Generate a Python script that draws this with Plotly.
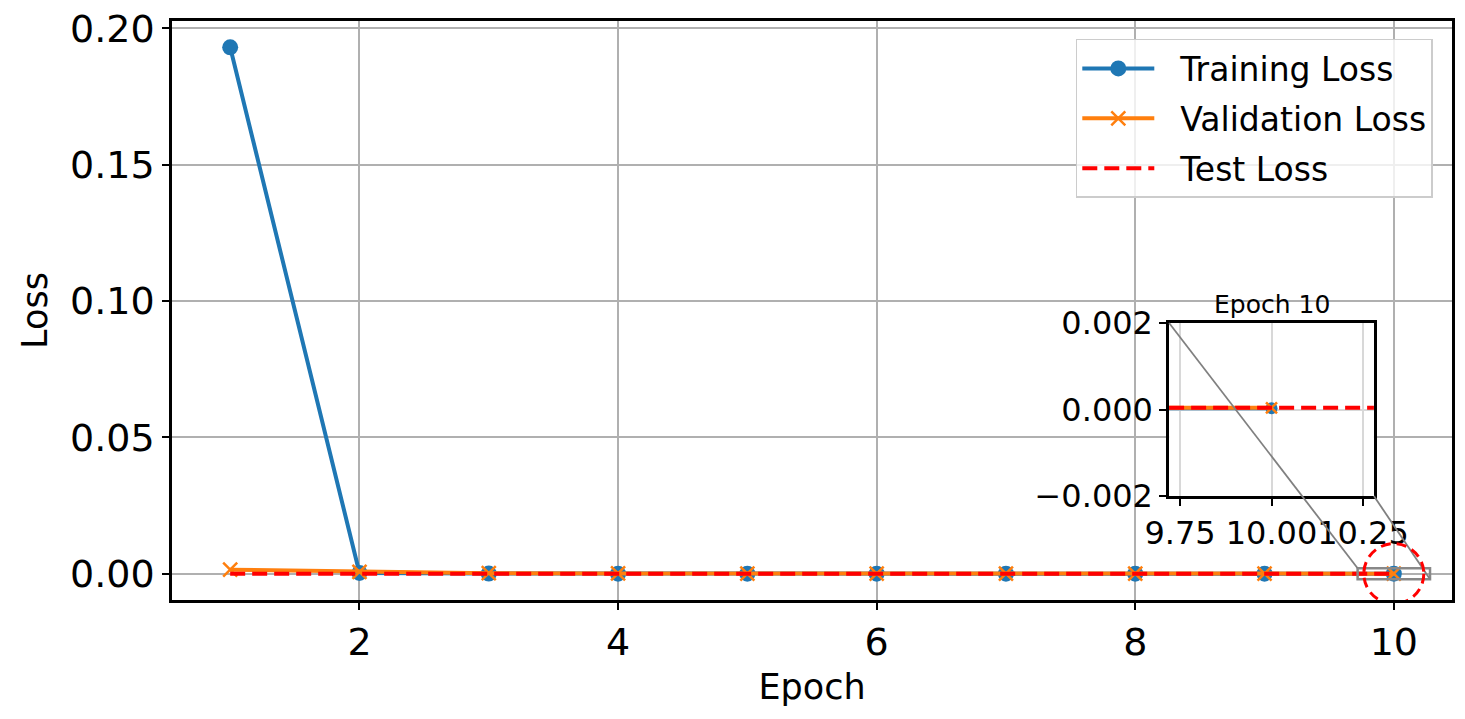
import plotly.graph_objects as go

# loss values
epochs = [1, 2, 3, 4, 5, 6, 7, 8, 9, 10]
train_loss = [0.1930, 0.0003, 0.00008, 0.00005, 0.00004, 0.00003, 0.00003, 0.00003, 0.00003, 0.00003]
val_loss = [0.0015, 0.0007, 0.0002, 0.0001, 0.00008, 0.00006, 0.00005, 0.00005, 0.00004, 0.00004]
test_loss = [0.00004, 0.00004, 0.00004, 0.00004, 0.00004, 0.00004, 0.00004, 0.00004, 0.00004, 0.00004]

main_xticks = [2, 4, 6, 8, 10]
main_yticks = [0.0, 0.05, 0.10, 0.15, 0.20]
inset_xticks = [9.75, 10.0, 10.25]
inset_yticks = [-0.002, 0.0, 0.002]
zoom_epoch = 10
inset_xlim = [9.72, 10.28]
inset_ylim = [-0.002, 0.002]

BLUE = "#1f77b4"
ORANGE = "#ff7f0e"
RED = "#ff0000"
FONT = "DejaVu Sans"

# the html page body has an 8px margin, so the figure is a bit smaller
W, H = 1457, 711
L, R, T, B = 164, 13, 13, 119
plot_w = W - L - R
plot_h = H - T - B

# matplotlib style autoscale (5% margins)
x_lo, x_hi = min(epochs), max(epochs)
x_pad = 0.05 * (x_hi - x_lo)
x_range = [x_lo - x_pad, x_hi + x_pad]
all_y = train_loss + val_loss + test_loss
y_lo, y_hi = min(all_y), max(all_y)
y_pad = 0.05 * (y_hi - y_lo)
y_range = [y_lo - y_pad, y_hi + y_pad]

# inset position in paper coords
inset_dom_x = [0.779, 0.939]
inset_dom_y = [0.1796, 0.4784]


def to_paper(x, y):
    px = (x - x_range[0]) / (x_range[1] - x_range[0])
    py = (y - y_range[0]) / (y_range[1] - y_range[0])
    return px, py


fig = go.Figure()

pad = "\u00a0\u00a0"
fig.add_trace(go.Scatter(x=epochs, y=train_loss, name=pad + "Training Loss", mode="lines+markers",
                         legendgroup="a",
                         line=dict(color=BLUE, width=4), marker=dict(symbol="circle", size=16, color=BLUE)))
fig.add_trace(go.Scatter(x=epochs, y=val_loss, name=pad + "Validation Loss", mode="lines+markers",
                         legendgroup="b",
                         line=dict(color=ORANGE, width=4),
                         marker=dict(symbol="x-thin", size=14, line=dict(color=ORANGE, width=2.5))))
fig.add_trace(go.Scatter(x=epochs, y=test_loss, name=pad + "Test Loss", mode="lines",
                         legendgroup="c",
                         line=dict(color=RED, width=4, dash="15px,7px")))

# inset copies
fig.add_trace(go.Scatter(x=epochs, y=train_loss, mode="lines+markers", showlegend=False,
                         xaxis="x2", yaxis="y2",
                         line=dict(color=BLUE, width=4), marker=dict(symbol="circle", size=12, color=BLUE)))
fig.add_trace(go.Scatter(x=epochs, y=val_loss, mode="lines+markers", showlegend=False,
                         xaxis="x2", yaxis="y2",
                         line=dict(color=ORANGE, width=4),
                         marker=dict(symbol="x-thin", size=11, line=dict(color=ORANGE, width=2.5))))

axis_common = dict(showline=True, mirror=True, linecolor="black", linewidth=2.5,
                   ticks="outside", ticklen=7, tickwidth=2, tickcolor="black",
                   zeroline=False, showgrid=True, automargin=False,
                   ticklabeloverflow="allow")

fig.update_layout(
    width=W, height=H,
    margin=dict(l=L, r=R, t=T, b=B, autoexpand=False),
    paper_bgcolor="white", plot_bgcolor="white",
    font=dict(family=FONT, color="black"),
    xaxis=dict(range=x_range, tickvals=main_xticks, tickfont=dict(size=38),
               gridcolor="#b0b0b0", gridwidth=2,
               title=dict(text="Epoch", font=dict(size=35), standoff=12), **axis_common),
    yaxis=dict(range=y_range, tickvals=main_yticks, tickformat=".2f", tickfont=dict(size=38),
               gridcolor="#b0b0b0", gridwidth=2,
               title=dict(text="Loss", font=dict(size=35), standoff=12), **axis_common),
    xaxis2=dict(domain=inset_dom_x, anchor="y2", range=inset_xlim, tickvals=inset_xticks,
                tickformat=".2f", tickangle=0, tickfont=dict(size=32),
                gridcolor="#d8d8d8", gridwidth=2, **axis_common),
    yaxis2=dict(domain=inset_dom_y, anchor="x2", range=inset_ylim, tickvals=inset_yticks,
                tickformat=".3f", tickfont=dict(size=32),
                gridcolor="#d8d8d8", gridwidth=2, **axis_common),
    legend=dict(x=0.985, y=0.969, xanchor="right", yanchor="top",
                font=dict(size=33), bgcolor="rgba(255,255,255,0.8)",
                bordercolor="#cccccc", borderwidth=1.5, itemwidth=72,
                tracegroupgap=4),
    showlegend=True,
)

# white face for the inset, covering the main grid
fig.add_shape(type="rect", xref="x2 domain", yref="y2 domain", x0=0, x1=1, y0=0, y1=1,
              fillcolor="white", line=dict(width=0), layer="below")

# test loss across the inset (axhline)
fig.add_shape(type="line", xref="x2 domain", yref="y2", x0=0, x1=1,
              y0=test_loss[-1], y1=test_loss[-1],
              line=dict(color=RED, width=4, dash="15px,7px"), layer="above")

fig.add_annotation(text="Epoch 10", xref="x2 domain", yref="y2 domain", x=0.5, y=1,
                   xanchor="center", yanchor="bottom", yshift=2, showarrow=False,
                   font=dict(size=25, color="black"))

# zoom rectangle on the main axes
fig.add_shape(type="rect", xref="x", yref="y", x0=inset_xlim[0], x1=inset_xlim[1],
              y0=inset_ylim[0], y1=inset_ylim[1], line=dict(color="#888888", width=2.5),
              fillcolor="rgba(0,0,0,0)", layer="above")

# connector lines
p_tl = to_paper(inset_xlim[0], inset_ylim[1])
p_br = to_paper(inset_xlim[1], inset_ylim[0])
fig.add_shape(type="line", xref="paper", yref="paper", x0=inset_dom_x[0], y0=inset_dom_y[1],
              x1=p_tl[0], y1=p_tl[1], line=dict(color="#808080", width=1.8), layer="above")
fig.add_shape(type="line", xref="paper", yref="paper", x0=inset_dom_x[1], y0=inset_dom_y[0],
              x1=p_br[0], y1=p_br[1], line=dict(color="#808080", width=1.8), layer="above")

# red dashed circle around the last epoch
r_px = 30
rx = r_px * (x_range[1] - x_range[0]) / plot_w
ry = r_px * (y_range[1] - y_range[0]) / plot_h
zoom_y = train_loss[epochs.index(zoom_epoch)]
fig.add_shape(type="circle", xref="x", yref="y", x0=zoom_epoch - rx, x1=zoom_epoch + rx,
              y0=zoom_y - ry, y1=zoom_y + ry, line=dict(color=RED, width=3, dash="10px,6px"),
              layer="above")

fig.write_html("out.html")
